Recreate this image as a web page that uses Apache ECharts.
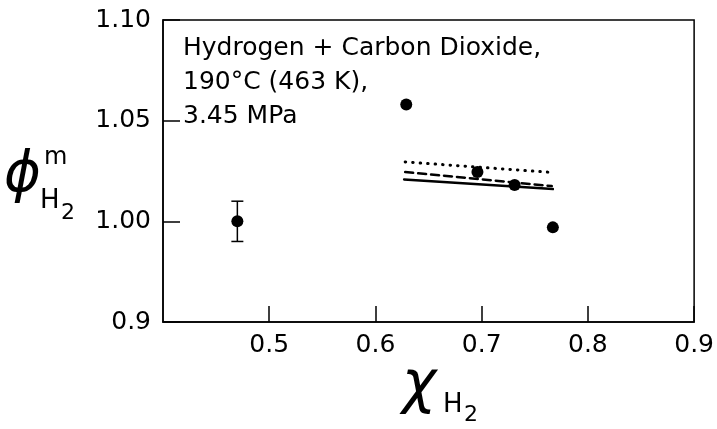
<!DOCTYPE html>
<html>
<head>
<meta charset="utf-8">
<script src="https://cdn.jsdelivr.net/npm/echarts@6/dist/echarts.min.js"></script>
<style>
  html, body { margin: 0; padding: 0; background: #fff; }
  #chart { width: 717px; height: 429px; }
</style>
</head>
<body>
<div id="chart"></div>
<script>
// measured points
var pointX = [0.47, 0.629, 0.696, 0.731, 0.767];
var pointY = [1.000, 1.058, 1.0245, 1.018, 0.997];

// error bar on the first point
var errX = [0.47];
var errLow = [0.99];
var errHigh = [1.01];

// model curves
var dottedX = [0.628, 0.766];
var dottedY = [1.0295, 1.0243];
var dashedX = [0.628, 0.766];
var dashedY = [1.0245, 1.0175];
var solidX = [0.627, 0.767];
var solidY = [1.0208, 1.016];

// tick labels
var xTickValues = [0.5, 0.6, 0.7, 0.8, 0.9];
var xTickLabels = ['0.5', '0.6', '0.7', '0.8', '0.9'];
var yTickValues = [0.95, 1.00, 1.05, 1.10];
var yTickLabels = ['0.9', '1.00', '1.05', '1.10'];

function pairs(xs, ys) {
    var out = [];
    for (var i = 0; i < xs.length; i++) {
        out.push([xs[i], ys[i]]);
    }
    return out;
}

function lineSeries(xs, ys, type, width) {
    return {
        type: 'line',
        data: pairs(xs, ys),
        symbol: 'none',
        silent: true,
        lineStyle: { color: '#000', width: width, type: type, cap: 'round' }
    };
}

function pickLabel(values, labels) {
    return function (v) {
        for (var i = 0; i < values.length; i++) {
            if (Math.abs(v - values[i]) < 1e-6) return labels[i];
        }
        return '';
    };
}

var font = 'DejaVu Sans';
var chart = echarts.init(document.getElementById('chart'));

var errData = [];
for (var i = 0; i < errX.length; i++) {
    errData.push([errX[i], errLow[i], errHigh[i]]);
}

var option = {
    animation: false,
    backgroundColor: '#fff',
    grid: {
        left: 163, right: 20, top: 20, bottom: 107,
        show: true, borderColor: '#000', borderWidth: 1.5
    },
    xAxis: {
        type: 'value',
        min: 0.4, max: 0.9, interval: 0.1,
        splitLine: { show: false },
        axisLine: { lineStyle: { color: '#000', width: 1.5 } },
        axisTick: { inside: true, length: 16, lineStyle: { color: '#000', width: 1.5 } },
        axisLabel: {
            showMinLabel: false,
            margin: 11,
            color: '#000',
            fontFamily: font,
            fontSize: 25,
            formatter: pickLabel(xTickValues, xTickLabels)
        }
    },
    yAxis: {
        type: 'value',
        min: 0.95, max: 1.10, interval: 0.05,
        splitLine: { show: false },
        axisLine: { lineStyle: { color: '#000', width: 1.5 } },
        axisTick: { inside: true, length: 17, lineStyle: { color: '#000', width: 1.5 } },
        axisLabel: {
            margin: 12,
            color: '#000',
            fontFamily: font,
            fontSize: 25,
            formatter: pickLabel(yTickValues, yTickLabels)
        }
    },
    series: [
        lineSeries(dottedX, dottedY, [0.5, 7], 3),
        lineSeries(dashedX, dashedY, [8, 5], 2.5),
        lineSeries(solidX, solidY, 'solid', 2.5),
        {
            type: 'custom',
            data: errData,
            silent: true,
            renderItem: function (params, api) {
                var lo = api.coord([api.value(0), api.value(1)]);
                var hi = api.coord([api.value(0), api.value(2)]);
                var w = 6;
                var st = { stroke: '#000', lineWidth: 1.5 };
                return {
                    type: 'group',
                    children: [
                        { type: 'line', shape: { x1: lo[0], y1: lo[1], x2: hi[0], y2: hi[1] }, style: st },
                        { type: 'line', shape: { x1: lo[0] - w, y1: lo[1], x2: lo[0] + w, y2: lo[1] }, style: st },
                        { type: 'line', shape: { x1: hi[0] - w, y1: hi[1], x2: hi[0] + w, y2: hi[1] }, style: st }
                    ]
                };
            }
        },
        {
            type: 'scatter',
            data: pairs(pointX, pointY),
            symbol: 'circle',
            symbolSize: 12,
            itemStyle: { color: '#000', opacity: 1 },
            z: 5
        }
    ],
    graphic: [
        {
            type: 'text', left: 183, top: 31,
            style: {
                text: 'Hydrogen + Carbon Dioxide,\n190°C (463 K),\n3.45 MPa',
                font: '25px "DejaVu Sans"', fill: '#000', lineHeight: 34
            }
        },
        // y-axis name: phi^m_H2
        { type: 'text', left: 4, top: 148, style: { text: 'ϕ', font: 'italic 56px "DejaVu Sans"', fill: '#000' } },
        { type: 'text', left: 44, top: 146, style: { text: 'm', font: '24px "DejaVu Sans"', fill: '#000' } },
        { type: 'text', left: 40, top: 188, style: { text: 'H', font: '26px "DejaVu Sans"', fill: '#000' } },
        { type: 'text', left: 61, top: 202, style: { text: '2', font: '22px "DejaVu Sans"', fill: '#000' } },
        // x-axis name: chi_H2
        { type: 'text', left: 402, top: 358, style: { text: 'χ', font: 'italic 58px "DejaVu Sans"', fill: '#000' } },
        { type: 'text', left: 443, top: 392, style: { text: 'H', font: '26px "DejaVu Sans"', fill: '#000' } },
        { type: 'text', left: 464, top: 404, style: { text: '2', font: '22px "DejaVu Sans"', fill: '#000' } }
    ]
};

chart.setOption(option);
</script>
</body>
</html>
